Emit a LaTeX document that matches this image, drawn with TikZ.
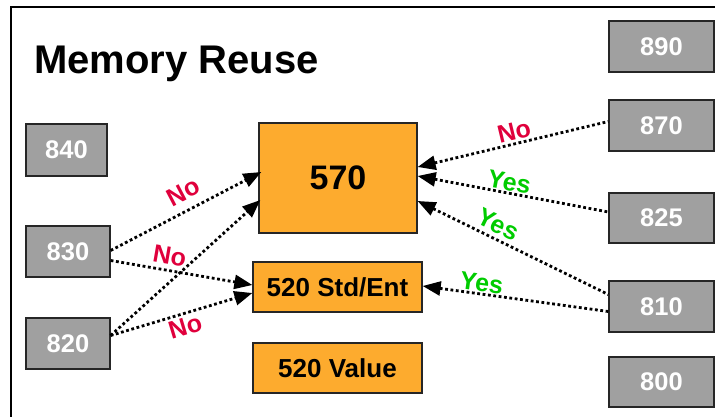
\documentclass[tikz,border=0pt]{standalone}
\usepackage{fontspec}
\setmainfont{Liberation Sans}
\usetikzlibrary{arrows.meta}
\definecolor{boxgray}{HTML}{A0A0A0}
\definecolor{boxorange}{HTML}{FDAB2E}
\definecolor{nored}{HTML}{E0003C}
\definecolor{yesgreen}{HTML}{00CC00}
\begin{document}
\begin{tikzpicture}[x=1pt,y=-1pt,
  gbox/.style={draw=black!85, line width=1.3pt, fill=boxgray, text=white, inner sep=0pt,
    font=\bfseries\fontsize{25.5}{25.5}\selectfont, minimum width=103pt, minimum height=50pt},
  obox/.style={draw=black!85, line width=1.3pt, fill=boxorange, text=black, inner sep=0pt,
    font=\bfseries\fontsize{26}{26}\selectfont},
  conn/.style={line width=2.8pt, dash pattern=on 2.8pt off 2.6pt,
    -{Triangle[length=18pt,width=14pt]}},
  connb/.style={line width=2.8pt, dash pattern=on 2.8pt off 2.6pt,
    {Triangle[length=18pt,width=14pt]}-},
  nolab/.style={text=nored, font=\bfseries\fontsize{25}{25}\selectfont, sloped, inner sep=1pt},
  yeslab/.style={text=yesgreen, font=\bfseries\fontsize{25}{25}\selectfont, sloped, inner sep=1pt}]
\useasboundingbox (0,0) rectangle (715,417);
\fill[white] (0,0) rectangle (715,417);
\draw[line width=1.3pt] (11,417) -- (11,7) -- (715,7);
\node[anchor=base west, inner sep=0pt, font=\bfseries\fontsize{40}{40}\selectfont] (title) at (34,74) {Memory Reuse};
% left boxes
\node[gbox, minimum width=81pt, minimum height=52pt] (b840) at (66.5,150) {840};
\node[gbox, minimum width=84pt, minimum height=51pt] (b830) at (68,251.5) {830};
\node[gbox, minimum width=84pt, minimum height=51pt] (b820) at (68,343.5) {820};
% right boxes
\node[gbox, minimum width=105pt, minimum height=51pt] (b890) at (661.5,46.5) {890};
\node[gbox, minimum width=105pt, minimum height=51pt] (b870) at (661.5,125.5) {870};
\node[gbox, minimum width=105pt, minimum height=50pt] (b825) at (661.5,218) {825};
\node[gbox, minimum width=105pt, minimum height=51pt] (b810) at (661.5,306.5) {810};
\node[gbox, minimum width=105pt, minimum height=50pt] (b800) at (661.5,382) {800};
% orange boxes
\node[obox, minimum width=158pt, minimum height=110pt, font=\bfseries\fontsize{34}{34}\selectfont] (b570) at (338,178) {570};
\node[obox, minimum width=169pt, minimum height=50pt] (b520s) at (337.5,287) {520 Std/Ent};
\node[obox, minimum width=169pt, minimum height=50pt] (b520v) at (337.5,368) {520 Value};
% connectors from left
\draw[conn] ([yshift=1pt]b830.east) -- ([xshift=3pt,yshift=6pt]b570.west)
  node[nolab, pos=0.54, above=7pt] {No};
\draw[conn] ([yshift=-9pt]b830.east) -- ([yshift=2pt]b520s.west)
  node[nolab, pos=0.4, above=3pt] {No};
\draw[conn] ([yshift=8pt]b820.east) -- ([xshift=2pt,yshift=-22pt]b570.west);
\draw[conn] ([yshift=8pt]b820.east) -- ([yshift=-6pt]b520s.west)
  node[nolab, pos=0.5, below=2pt] {No};
% connectors from right
\draw[connb] ([yshift=11pt]b570.east) -- ([yshift=4pt]b870.west)
  node[nolab, pos=0.52, above=1pt] {No};
\draw[connb] ([yshift=2pt]b570.east) -- ([yshift=6pt]b825.west)
  node[yeslab, pos=0.47, above=0pt] {Yes};
\draw[connb] ([yshift=-23pt]b570.east) -- ([yshift=12pt]b810.west)
  node[yeslab, pos=0.39, above=3pt] {Yes};
\draw[connb] ([yshift=1pt]b520s.east) -- ([yshift=-5pt]b810.west)
  node[yeslab, pos=0.31, above=0pt] {Yes};
\end{tikzpicture}
\end{document}
